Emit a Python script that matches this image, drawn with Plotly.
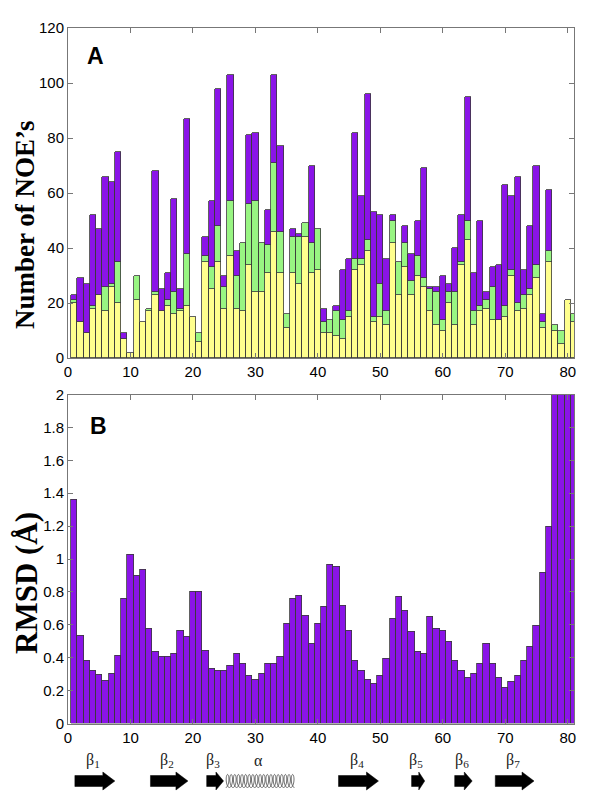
import math
import plotly.graph_objects as go

# ---------------- data ----------------
residues = list(range(1, 82))

# Panel A: NOE counts per residue, stacked components (yellow bottom, green middle, purple top)
noe_yellow = [20, 13, 9, 18, 23, 17, 26, 20, 7, 2,
              21, 13, 17, 23, 17, 19, 16, 17, 19, 15,
              6, 35, 25, 35, 18, 37, 18, 17, 34, 24,
              24, 31, 46, 31, 11, 31, 27, 44, 31, 32,
              9, 9, 8, 7, 15, 32, 34, 39, 13, 15,
              12, 42, 23, 33, 23, 30, 26, 17, 12, 10,
              20, 12, 34, 43, 12, 17, 18, 14, 14, 15,
              30, 17, 18, 23, 29, 11, 35, 10, 5, 21,
              13]
noe_green = [1, 0, 0, 1, 0, 9, 1, 15, 0, 0,
             9, 0, 1, 1, 0, 2, 8, 1, 19, 0,
             3, 2, 8, 13, 8, 20, 12, 25, 22, 33,
             18, 10, 25, 15, 5, 13, 17, 5, 11, 15,
             4, 5, 9, 7, 2, 4, 2, 4, 2, 12,
             5, 8, 12, 9, 5, 7, 3, 8, 12, 4,
             4, 12, 1, 7, 5, 2, 3, 12, 0, 4,
             2, 3, 5, 2, 5, 2, 4, 2, 5, 0,
             3]
noe_purple = [2, 16, 18, 33, 24, 40, 37, 40, 2, 0,
              0, 0, 0, 44, 8, 10, 34, 7, 49, 0,
              0, 7, 24, 50, 4, 46, 9, 0, 25, 25,
              0, 13, 32, 31, 0, 3, 1, 0, 28, 0,
              5, 0, 2, 18, 19, 46, 23, 53, 38, 25,
              19, 2, 0, 6, 10, 13, 40, 1, 2, 16,
              3, 16, 17, 45, 14, 31, 3, 7, 20, 44,
              27, 46, 9, 23, 36, 3, 22, 0, 0, 0,
              0]

# Panel B: RMSD per residue (values above 2 are clipped by the axis)
rmsd = [1.36, 0.535, 0.38, 0.32, 0.295, 0.26, 0.305, 0.416, 0.76, 1.028,
        0.90, 0.937, 0.578, 0.44, 0.408, 0.408, 0.426, 0.566, 0.53, 0.80,
        0.80, 0.446, 0.337, 0.32, 0.325, 0.35, 0.426, 0.366, 0.293, 0.265,
        0.305, 0.366, 0.366, 0.408, 0.608, 0.758, 0.776, 0.655, 0.487, 0.608,
        0.709, 0.968, 0.955, 0.717, 0.566, 0.386, 0.32, 0.265, 0.244, 0.293,
        0.396, 0.638, 0.77, 0.685, 0.562, 0.44, 0.426, 0.649, 0.578, 0.566,
        0.50, 0.38, 0.32, 0.277, 0.305, 0.366, 0.487, 0.366, 0.277, 0.216,
        0.257, 0.289, 0.38, 0.469, 0.594, 0.919, 1.198, 2.2, 2.2, 2.2,
        2.2]

x_tick_vals = [0, 10, 20, 30, 40, 50, 60, 70, 80]
noe_tick_vals = [0, 20, 40, 60, 80, 100, 120]
rmsd_tick_vals = [0, 0.2, 0.4, 0.6, 0.8, 1, 1.2, 1.4, 1.6, 1.8, 2]
rmsd_tick_text = ["0", "0.2", "0.4", "0.6", "0.8", "1", "1.2", "1.4", "1.6", "1.8", "2"]

# Secondary structure elements: (label, kind, start residue, end residue)
ss_elements = [
    ("β<sub>1</sub>", "strand", 1.1, 7.5),
    ("β<sub>2</sub>", "strand", 13.2, 19.2),
    ("β<sub>3</sub>", "strand", 22.2, 24.9),
    ("α", "helix", 24.9, 36.6),
    ("β<sub>4</sub>", "strand", 43.3, 49.7),
    ("β<sub>5</sub>", "strand", 55.0, 57.1),
    ("β<sub>6</sub>", "strand", 61.9, 64.7),
    ("β<sub>7</sub>", "strand", 68.4, 74.6),
]

# ---------------- styling ----------------
YELLOW = "#FFFF8E"
GREEN = "#98F582"
PURPLE = "#8A14E8"
EDGE = "#3a3a3a"
AXIS = "#777777"
OFF = 8                      # page body margin of the html page
W, H = 600 - OFF, 802 - OFF  # figure size so that the window shows the same area
MT, MB, ML, MR = 28 - OFF, 8, 68 - OFF, 26
PLOT_H = H - MT - MB
PLOT_W = W - ML - MR
PX_PER_UNIT = PLOT_W / 81.0


def py2paper(py):
    """window pixel y -> paper y"""
    return (H - MB - (py - OFF)) / PLOT_H


def px2paper(px):
    """window pixel x -> paper x"""
    return (px - OFF - ML) / PLOT_W


def clamp01(v):
    return min(1.0, max(0.0, v))


def nz(v):
    return [None if a == 0 else a for a in v]


fig = go.Figure()
for vals, col in ((noe_yellow, YELLOW), (noe_green, GREEN), (noe_purple, PURPLE)):
    fig.add_trace(go.Bar(x=residues, y=nz(vals), width=1, xaxis="x", yaxis="y",
                         marker=dict(color=col, line=dict(color=EDGE, width=0.8)),
                         showlegend=False))

fig.add_trace(go.Bar(x=residues, y=rmsd, width=1, xaxis="x2", yaxis="y2",
                     marker=dict(color=PURPLE, line=dict(color=EDGE, width=0.8)),
                     showlegend=False))

tickfont = dict(family="Liberation Sans, Arial, sans-serif", size=15, color="#000")
axis_common = dict(showline=True, linecolor=AXIS, linewidth=1, mirror="ticks",
                   ticks="inside", ticklen=5, tickcolor=AXIS, showgrid=False,
                   zeroline=False, tickfont=tickfont, automargin=False)

fig.update_layout(
    width=W, height=H,
    margin=dict(l=ML, r=MR, t=MT, b=MB, autoexpand=False),
    paper_bgcolor="white", plot_bgcolor="white",
    barmode="stack", bargap=0, showlegend=False,
    xaxis=dict(domain=[0, 1], anchor="y", range=[0, 81], tickvals=x_tick_vals, **axis_common),
    yaxis=dict(domain=[clamp01(py2paper(358)), clamp01(py2paper(28))], anchor="x", range=[0, 120],
               tickvals=noe_tick_vals, **axis_common),
    xaxis2=dict(domain=[0, 1], anchor="y2", range=[0, 81], tickvals=x_tick_vals, **axis_common),
    yaxis2=dict(domain=[clamp01(py2paper(723.5)), clamp01(py2paper(394.5))], anchor="x2",
                range=[0, 2], tickvals=rmsd_tick_vals, ticktext=rmsd_tick_text, **axis_common),
)

# panel letters
for letter, cx, cy in (("A", 95, 56), ("B", 98, 426)):
    fig.add_annotation(text="<b>%s</b>" % letter, xref="paper", yref="paper",
                       x=px2paper(cx), y=py2paper(cy), xanchor="center", yanchor="middle",
                       showarrow=False,
                       font=dict(family="Liberation Sans, Arial, sans-serif", size=23, color="#000"))

# axis titles
serif = "Liberation Serif, Times New Roman, serif"
fig.add_annotation(text="<b>Number of NOE’s</b>", xref="paper", yref="paper",
                   x=px2paper(25), y=py2paper(225), xanchor="center", yanchor="middle",
                   textangle=-90, showarrow=False,
                   font=dict(family=serif, size=27, color="#000"))
fig.add_annotation(text="<b>RMSD (Å)</b>", xref="paper", yref="paper",
                   x=px2paper(26), y=py2paper(583), xanchor="center", yanchor="middle",
                   textangle=-90, showarrow=False,
                   font=dict(family=serif, size=31, color="#000"))

# secondary structure cartoon
yc = 781
body_h, head_h = 5.5, 9.0
shapes = []
for label, kind, s, e in ss_elements:
    mid = 0.5 * (s + e) - 0.3
    fig.add_annotation(text=label, xref="x2", yref="paper", x=mid, y=py2paper(760),
                       xanchor="center", yanchor="middle", showarrow=False,
                       font=dict(family=serif, size=16, color="#222"))
    if kind == "strand":
        length_px = (e - s) * PX_PER_UNIT
        hl = min(12.0, 0.45 * length_px) / PX_PER_UNIT
        xh = e - hl
        pts = [(s, yc - body_h), (xh, yc - body_h), (xh, yc - head_h), (e, yc),
               (xh, yc + head_h), (xh, yc + body_h), (s, yc + body_h)]
        path = "M " + " L ".join("%.4f,%.5f" % (x, py2paper(y)) for x, y in pts) + " Z"
        shapes.append(dict(type="path", xref="x2", yref="paper", path=path,
                           fillcolor="#000", line=dict(color="#000", width=0.5)))
    else:
        x0p = s * PX_PER_UNIT
        x1p = e * PX_PER_UNIT
        nloops = 19
        bx = 2.2
        period = (x1p - x0p - 2 * bx) / nloops
        amp = 6.5
        pts = []
        steps = nloops * 40
        for k in range(steps + 1):
            t = 2 * math.pi * nloops * k / steps
            xp = x0p + bx + period * t / (2 * math.pi) + bx * math.sin(t)
            ypx = yc + amp * math.cos(t)
            pts.append((xp / PX_PER_UNIT, py2paper(ypx)))
        path = "M " + " L ".join("%.4f,%.5f" % p for p in pts)
        shapes.append(dict(type="path", xref="x2", yref="paper", path=path,
                           line=dict(color="#333", width=0.7)))

fig.update_layout(shapes=shapes)

fig.write_html("out.html")
